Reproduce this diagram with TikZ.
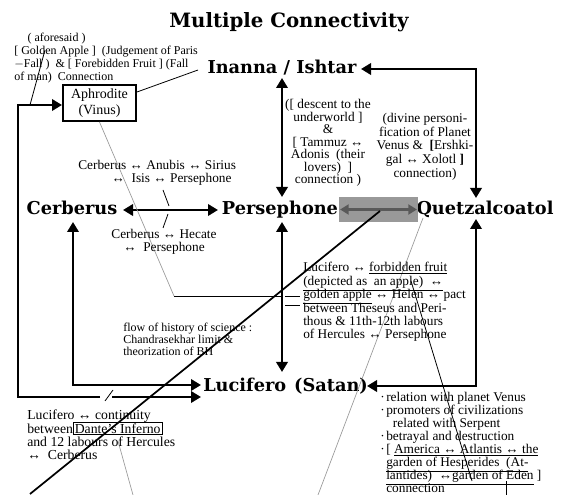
\documentclass[tikz,border=0pt]{standalone}
\usepackage{fontspec}
\setmainfont{Liberation Serif}
\newfontfamily\headfont{DejaVu Serif}
\usetikzlibrary{arrows.meta}
\newcommand\mybul{\makebox[4.5pt][l]{·}}
\newcommand\mytight{\lineskiplimit=-20pt\relax}
\begin{document}
\begin{tikzpicture}[x=0.75pt,y=-0.75pt,
 >={Triangle[length=7.5pt,width=8.5pt]},
 head/.style={font=\headfont\bfseries\fontsize{13.3}{14}\selectfont, inner sep=0pt, anchor=base},
 note/.style={font=\fontsize{10}{9.75}\selectfont\mytight, inner sep=0pt, align=left, anchor=north west},
 cnote/.style={note, align=center, anchor=north},
 big/.style={line width=2.2pt},
 thinb/.style={line width=0.6pt},
 thing/.style={line width=0.5pt, draw=black!40},
]
\useasboundingbox[fill=white] (0,0) rectangle (565,495);

% headings
\node[head, font=\headfont\bfseries\fontsize{14.8}{15}\selectfont] (title) at (289,28) {Multiple Connectivity};
\node[head] (inanna) at (282,74) {Inanna / Ishtar};
\node[head] (cerb) at (72,215) {Cerberus};
\node[head] (pers) at (280,215) {Persephone};
\node[head] (quet) at (485,215) {Quetzalcoatol};
\node[head, anchor=base west] (luc) at (203,392) {Lucifero\hspace{6pt}(Satan)};

% gray box with arrow
\node[fill=black!40, minimum width=59.25pt, minimum height=18.75pt, inner sep=0pt] (gbox) at (378.5,209.5) {};
\draw[<->, line width=1.6pt, draw=black!65, >={Triangle[length=6.5pt,width=7.5pt]}] ([xshift=1pt]gbox.west) -- ([xshift=-1pt]gbox.east);

% Aphrodite
\node[draw, line width=1.5pt, minimum width=54.75pt, minimum height=27pt, align=center, inner sep=0pt, font=\fontsize{10.5}{11.5}\selectfont] (aph) at (99.5,103) {Aphrodite\\(Vinus)};

% named corner / end points
\coordinate (ia) at (282,78);
\coordinate (pa) at (282,197);
\coordinate (pb) at (282,222);
\coordinate (lb) at (282,372);
\coordinate (ce) at (123,210);
\coordinate (pw) at (218,210);
\coordinate (ie) at (361,69);
\coordinate (qn) at (476,198);
\coordinate (qs) at (476,219);
\coordinate (le) at (367,386);
\coordinate (cs) at (73,222);
\coordinate (lw1) at (201,385);
\coordinate (g1) at (100,397);
\coordinate (g2) at (112,397);
\coordinate (lw2) at (201,397);

% thick arrows
\draw[big,<->] (ia) -- (pa);
\draw[big,<->] (pb) -- (lb);
\draw[big,<->] (ce) -- (pw);
\draw[big,<->] (ie) -| (qn);
\draw[big,<->] (qs) |- (le);
\draw[big,<->] (cs) |- (lw1);
\draw[big,->] (g1) -- (18,397) -- (18,105) -- (aph.west |- 18,105);
\draw[big,->] (g2) -- (lw2);

% thin lines
\draw[thinb] (aph.east |- 0,92) -- (198,70);
\draw[thinb] (30,105) -- (45,50);
\draw[thing] (aph.south) -- (174,296);
\draw[thinb] (174,296) -- (281,296);
\draw[thinb] (285,296) -- (300,296);
\draw[thinb] (285,305) -- (300,305);
\draw[thinb] (163,190) -- (169,206);
\draw[thinb] (168,214) -- (163,228);
\draw[line width=1.3pt] (380,211) -- (30,494);
\draw[thing] (423,218) -- (318,495);
\draw[thinb] (411,281) -- (472,481);
\draw[thinb] (506,481) -- (506,495);
\draw[thing] (118,441) -- (133,495);
\draw[thinb] (113,390) -- (105,401);

% notes
\node[note, font=\fontsize{9}{9.8}\selectfont\mytight] (afore) at (14,33) {\hspace*{10pt}( aforesaid )\\ {[} Golden Apple ]\ \ (Judgement of Paris\\ $-$Fall )\ \ \& [ Forebidden Fruit ] (Fall\\ of man)\ \ Connection};

\node[cnote, font=\fontsize{10}{9.4}\selectfont\mytight] (inote) at (328,99) {([ descent to the\\ underworld ]\\ \&\\ {[} Tammuz ↔\\ Adonis\ \ (their\\ lovers)\ \ ]\\ connection )};

\node[cnote, font=\fontsize{10}{10.3}\selectfont\mytight] (vnote) at (425,113) {(divine personi-\\ fication of Planet\\ Venus \&\ \ \textbf{[}Ershki-\\ gal ↔ Xolotl \textbf{]}\\ connection)};

\node[note] (cn1) at (78,160) {Cerberus ↔ Anubis ↔ Sirius\\ \hspace*{25pt}↔\ \ Isis ↔ Persephone};
\node[cnote] (cn2) at (164,229) {Cerberus ↔ Hecate\\ ↔\ \ Persephone};

\node[note, font=\fontsize{10}{10.1}\selectfont\mytight] (lucnote) at (303,262) {Lucifero ↔ \underline{forbidden fruit}\\ \underline{(depicted as\ \ an apple)\ \ ↔}\\ \underline{golden apple} ↔ Helen ↔ pact\\ between Theseus and Peri-\\ thous \& 11th-12th labours\\ of Hercules ↔ Persephone};

\node[note, font=\fontsize{9}{9}\selectfont\mytight] (flow) at (123,323) {flow of history of science :\\ Chandrasekhar limit \&\\ theorization of BH};

\node[note, font=\fontsize{10.3}{10}\selectfont\mytight] (cont) at (27,410) {Lucifero ↔ continuity\\ between{\fboxsep=0.8pt\fboxrule=0.5pt\fbox{Dante's Inferno}}\\ and 12 labours of Hercules\\ ↔\ \ Cerberus};

\node[note, font=\fontsize{10}{9.75}\selectfont\mytight] (bul) at (380,392) {\mybul relation with planet Venus\\ \mybul promoters of civilizations\\ \hspace*{9.5pt}related with Serpent\\ \mybul betrayal and destruction\\ \mybul[ \underline{America ↔ Atlantis ↔ the}\\ \hspace*{4.5pt}\underline{garden of Hesperides\ \ (At-}\\ \hspace*{4.5pt}\underline{lantides)\ \ ↔garden of Eden} ]\\ \hspace*{4.5pt}connection};
\end{tikzpicture}
\end{document}
